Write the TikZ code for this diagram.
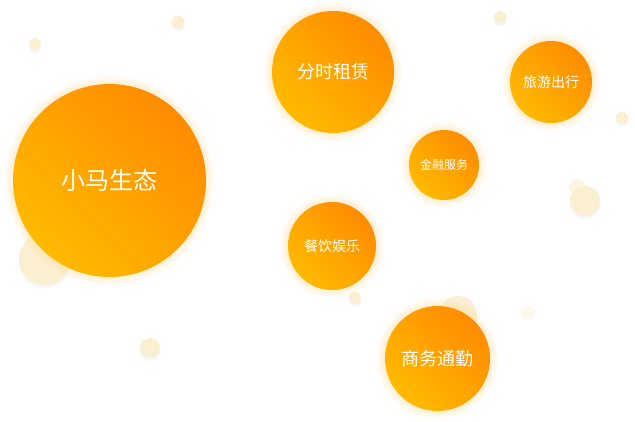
\documentclass[tikz,border=0pt]{standalone}
\usepackage{fontspec}
\newfontfamily\cjk{Noto Sans CJK SC}
\definecolor{laranjaA}{HTML}{FF8C00}
\definecolor{laranjaB}{HTML}{FFBA00}
\definecolor{palido}{HTML}{FBEFD2}
\definecolor{brilho}{HTML}{FFDA80}
\definecolor{sombra}{HTML}{C8D0E0}
\tikzset{
  bolha/.style={circle, inner sep=0pt, text=white, shading=axis,
    top color=laranjaA, bottom color=laranjaB, shading angle=-45,
    font=\cjk\fontsize{#1}{#1}\selectfont},
  halo/.style={fill=brilho, opacity=0.045},
  gota/.style={fill=palido},
}
\begin{document}
\begin{tikzpicture}[x=1pt, y=-1pt]
  \fill[white] (0,0) rectangle (635,421);
  \useasboundingbox (0,0) rectangle (635,421);
  % bolinhas claras ao fundo (sombra e depois o disco)
  \foreach \cx/\cy/\r in {35/44/6, 178/22/6.5, 500/17/6, 622/118/6,
      150/348/10, 355/298/6, 45/259/26, 585/201/15, 458/315/19}
    \fill[sombra, opacity=0.18] (\cx,\cy+3) circle (\r);
  \foreach \cx/\cy/\r in {35/44/6, 178/22/6.5, 500/17/6, 622/118/6,
      150/348/10, 355/298/6, 45/259/26, 585/201/15, 458/315/19}
    \fill[gota] (\cx,\cy) circle (\r);
  \fill[gota, opacity=0.6] (577,187) circle (8);
  \fill[gota, opacity=0.35] (528,313) circle (7);
  % halo amarelo em volta das bolhas
  \foreach \cx/\cy/\r in {109.5/180.5/96.5, 333/72/61, 551/82/41,
      444/165/35, 332/246/44, 437.5/358.5/52.5}
    \foreach \k in {1,...,8}
      \fill[halo] (\cx,\cy) circle ({\r+\k});
  % bolhas principais
  \node[bolha=24, minimum size=193pt] (shengtai) at (109.5,180.5) {小马生态};
  \node[bolha=18, minimum size=122pt] (zulin) at (333,72) {分时租赁};
  \node[bolha=14, minimum size=82pt] (lvyou) at (551,82) {旅游出行};
  \node[bolha=12, minimum size=70pt] (jinrong) at (444,165) {金融服务};
  \node[bolha=14, minimum size=88pt] (canyin) at (332,246) {餐饮娱乐};
  \node[bolha=18, minimum size=105pt] (tongqin) at (437.5,358.5) {商务通勤};
\end{tikzpicture}
\end{document}
